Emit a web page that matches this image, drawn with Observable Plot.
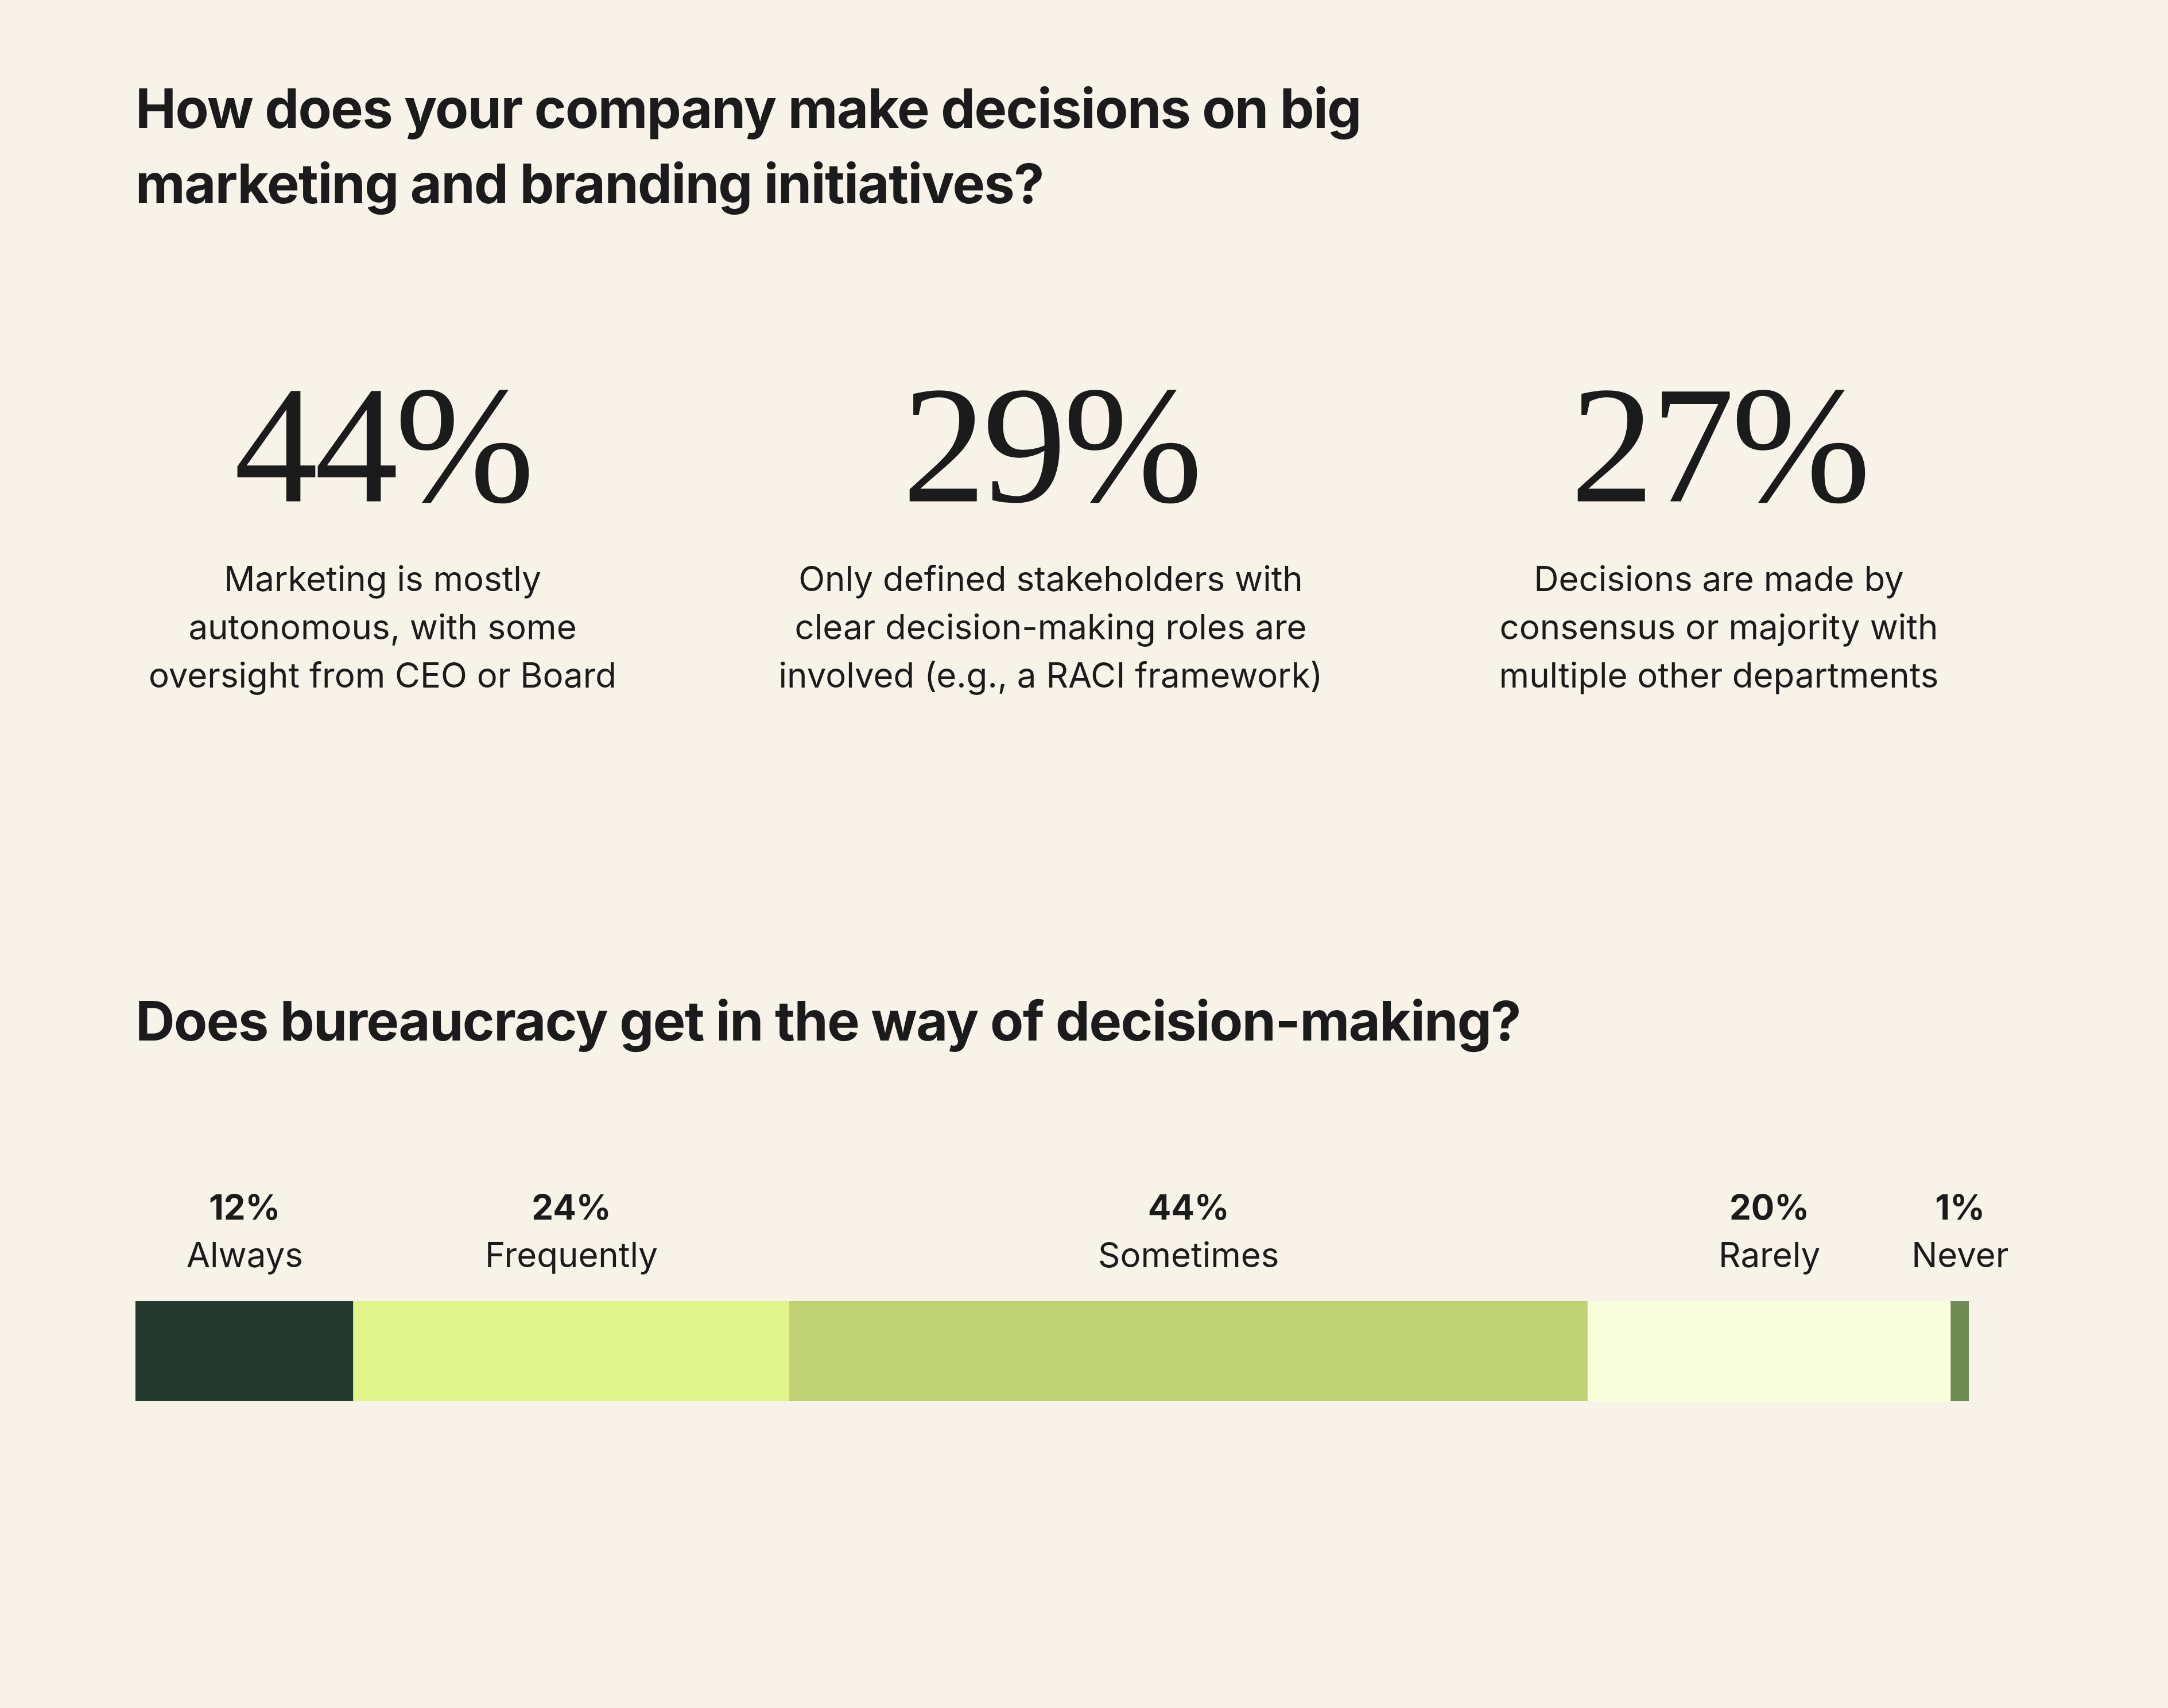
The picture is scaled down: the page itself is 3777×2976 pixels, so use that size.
<!DOCTYPE html>
<html>
<head>
<meta charset="utf-8">
<script src="https://cdn.jsdelivr.net/npm/d3@7"></script>
<script src="https://cdn.jsdelivr.net/npm/@observablehq/plot@0.6"></script>
<style>
  html, body { margin: 0; padding: 0; background: #f7f3e9; }
  #page { position: relative; width: 3777px; height: 2976px; background: #f7f3e9; font-family: Inter, "Noto Sans", sans-serif; color: #1b1b1b; overflow: hidden; }
  .title { position: absolute; left: 236px; margin: 0; font-weight: 700; font-size: 95px; line-height: 131px; letter-spacing: -1.5px; white-space: nowrap; }
  #t1 { top: 123px; }
  #t2 { top: 1713px; }
  .chart { position: absolute; left: 0; }
  #stats { top: 600px; }
  #bar { top: 2000px; }
  #stats text.big { letter-spacing: -6px; }
</style>
</head>
<body>
<div id="page">
  <h1 class="title" id="t1">How does your company make decisions on big<br>marketing and branding initiatives?</h1>
  <div class="chart" id="stats"></div>
  <h2 class="title" id="t2">Does bureaucracy get in the way of decision-making?</h2>
  <div class="chart" id="bar"></div>
</div>
<script>
// --- Data: decision-making approach ---
const decisionKeys = ["autonomous", "raci", "consensus"];
const decisionShares = [44, 29, 27];
const decisionLabels = [
  "Marketing is mostly\nautonomous, with some\noversight from CEO or Board",
  "Only defined stakeholders with\nclear decision-making roles are\ninvolved (e.g., a RACI framework)",
  "Decisions are made by\nconsensus or majority with\nmultiple other departments"
];

// --- Data: bureaucracy frequency ---
const frequencyCategories = ["Always", "Frequently", "Sometimes", "Rarely", "Never"];
const frequencyShares = [12, 24, 44, 20, 1];

const statsData = decisionKeys.map((k, i) => ({key: k, share: decisionShares[i], label: decisionLabels[i]}));
const barData = frequencyCategories.map((c, i) => ({category: c, share: frequencyShares[i]}));

const ink = "#1b1b1b";

const stats = Plot.plot({
  width: 3777,
  height: 700,
  margin: 0,
  style: {background: "transparent", color: ink, overflow: "visible"},
  x: {type: "point", domain: decisionKeys, range: [665, 2994], padding: 0, axis: null},
  marks: [
    Plot.text(statsData, {
      x: "key",
      text: d => `${d.share}%`,
      frameAnchor: "top",
      dy: 273,
      lineAnchor: "bottom",
      fontFamily: "Liberation Serif, DejaVu Serif, serif",
      fontSize: 292,
      fill: ink,
      textAnchor: "middle",
      className: "big"
    }),
    Plot.text(statsData, {
      x: "key",
      text: "label",
      frameAnchor: "top",
      dy: 597,
      lineAnchor: "bottom",
      lineHeight: 1.4,
      fontFamily: "Inter, Noto Sans, sans-serif",
      fontSize: 60,
      fill: ink,
      textAnchor: "middle"
    })
  ]
});
stats.querySelectorAll("g[aria-label='text']")[0]?.querySelectorAll("text").forEach(t => t.classList.add("big"));
document.getElementById("stats").append(stats);

const bar = Plot.plot({
  width: 3777,
  height: 500,
  marginLeft: 236,
  marginRight: 347,
  marginTop: 267,
  marginBottom: 59,
  style: {background: "transparent", color: ink, overflow: "visible"},
  x: {domain: [0, d3.sum(frequencyShares)], axis: null},
  color: {
    domain: frequencyCategories,
    range: ["#243a2e", "#e2f58c", "#c0d174", "#f8fddb", "#6f8a52"]
  },
  marks: [
    Plot.barX(barData, Plot.stackX({x: "share", fill: "category", order: null})),
    Plot.text(barData, Plot.stackX({
      x: "share",
      text: d => `${d.share}%`,
      order: null,
      frameAnchor: "top",
      dy: -143,
      lineAnchor: "bottom",
      fontFamily: "Inter, Noto Sans, sans-serif",
      fontWeight: 700,
      fontSize: 60,
      fill: ink
    })),
    Plot.text(barData, Plot.stackX({
      x: "share",
      text: "category",
      order: null,
      frameAnchor: "top",
      dy: -60,
      lineAnchor: "bottom",
      fontFamily: "Inter, Noto Sans, sans-serif",
      fontSize: 60,
      fill: ink
    }))
  ]
});
document.getElementById("bar").append(bar);
</script>
</body>
</html>
